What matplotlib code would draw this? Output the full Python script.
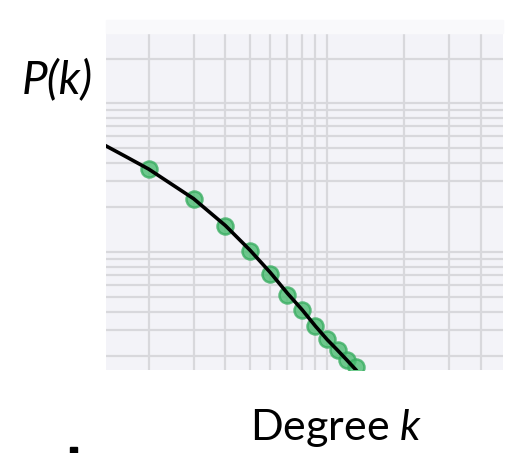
import matplotlib.pyplot as plt
from matplotlib.patches import Rectangle

# observed degree distribution (green markers)
k_obs = [2, 3, 4, 5, 6, 7, 8, 9, 10, 11, 12, 13]
p_obs = [0.0364, 0.0228, 0.0150, 0.0102, 0.0072, 0.0052,
         0.0041, 0.0032, 0.0026, 0.0022, 0.0019, 0.0017]

# fitted curve (black line)
k_fit = [1.3, 1.6, 2, 3, 4, 5, 6, 7, 8, 9, 10, 11, 12, 13, 14]
p_fit = [0.054, 0.0446, 0.0362, 0.0229, 0.0151, 0.0103, 0.0073, 0.0053,
         0.0041, 0.0032, 0.0026, 0.0022, 0.00188, 0.00162, 0.00138]

plt.rcParams['mathtext.fontset'] = 'custom'
plt.rcParams['mathtext.it'] = 'Lato:italic'
plt.rcParams['mathtext.rm'] = 'Lato'

fig = plt.figure(figsize=(5.10, 4.53), dpi=100)
fig.patch.set_facecolor('white')

# pale strip above the plot area
fig.patches.append(Rectangle((106 / 510, 1 - 33 / 453), 397 / 510, 13 / 453,
                             transform=fig.transFigure, color='#f9f9fb', zorder=0))

ax = fig.add_axes([106 / 510, 83 / 453, 397 / 510, 337 / 453])
ax.set_facecolor('#f3f3f8')
ax.set_xscale('log')
ax.set_yscale('log')
ax.set_xlim(1.36, 49.0)
ax.set_ylim(0.00162, 0.297)

ax.grid(True, which='both', color='#d8d8dc', linewidth=1.6)
ax.set_axisbelow(True)
for s in ax.spines.values():
    s.set_visible(False)
ax.tick_params(which='both', length=0, labelbottom=False, labelleft=False)

ax.plot(k_obs, p_obs, 'o', color='#4cbd72', alpha=0.8, markersize=11.5,
        markeredgecolor='#3aae62', markeredgewidth=1.8, zorder=3)
ax.plot(k_fit, p_fit, color='black', linewidth=2.6, zorder=4)

fig.text(22 / 510, 1 - 93 / 453, 'P(k)', family='Lato', style='italic',
         fontsize=33, va='baseline', ha='left')
fig.text(250 / 510, 1 - 440 / 453, 'Degree $k$', family='Lato',
         fontsize=31, va='baseline', ha='left')

# cut-off mark at the bottom left
fig.patches.append(Rectangle((70 / 510, 0), 7 / 510, 6 / 453,
                             transform=fig.transFigure, color='black'))

fig.savefig('out.png', dpi=100)
